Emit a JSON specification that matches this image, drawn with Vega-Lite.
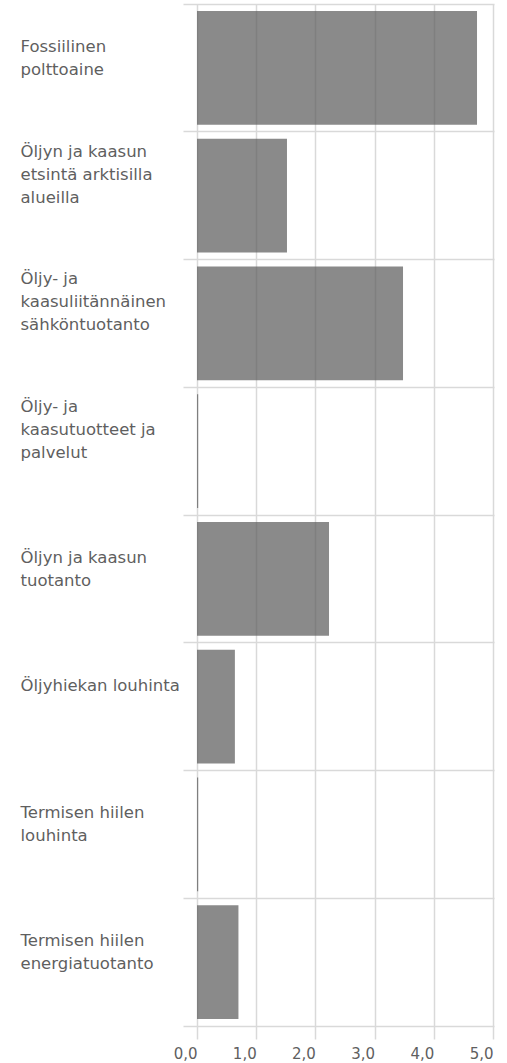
{
  "$schema": "https://vega.github.io/schema/vega-lite/v6.json",
  "width": 311,
  "height": 1022,
  "autosize": {"type": "none"},
  "padding": {"left": 183, "top": 4, "right": 13, "bottom": 37},
  "background": "white",
  "config": {"view": {"stroke": null}, "font": "DejaVu Sans"},
  "data": {
    "values": [
      {"category": "Fossiilinen|polttoaine", "value": 4.73},
      {"category": "Öljyn ja kaasun|etsintä arktisilla|alueilla", "value": 1.52},
      {"category": "Öljy- ja|kaasuliitännäinen|sähköntuotanto", "value": 3.48},
      {"category": "Öljy- ja|kaasutuotteet ja|palvelut", "value": 0.02},
      {"category": "Öljyn ja kaasun|tuotanto", "value": 2.23},
      {"category": "Öljyhiekan louhinta|", "value": 0.64},
      {"category": "Termisen hiilen|louhinta", "value": 0.02},
      {"category": "Termisen hiilen|energiatuotanto", "value": 0.70}
    ]
  },
  "mark": {"type": "bar", "height": {"band": 0.89}, "color": "#595959", "opacity": 0.7},
  "encoding": {
    "y": {
      "field": "category",
      "type": "nominal",
      "sort": null,
      "scale": {"paddingInner": 0, "paddingOuter": 0},
      "axis": {
        "title": null,
        "domain": false,
        "ticks": false,
        "tickSize": 0,
        "bandPosition": 0,
        "grid": true,
        "gridColor": "#d9d9d9",
        "gridWidth": 1.5,
        "labelAlign": "left",
        "labelBaseline": "alphabetic",
        "labelPadding": 163,
        "labelOffset": -39,
        "labelExpr": "length(split(datum.value, '|')) == 2 ? split('|' + datum.value, '|') : split(datum.value, '|')",
        "labelFont": "DejaVu Sans",
        "labelFontSize": 16.5,
        "labelLineHeight": 23,
        "labelColor": "#5f5f5f",
        "labelLimit": 200
      }
    },
    "x": {
      "field": "value",
      "type": "quantitative",
      "scale": {"domain": [-0.2365, 5.017], "nice": false, "zero": false},
      "axis": {
        "title": null,
        "values": [0, 1, 2, 3, 4, 5],
        "labelExpr": "replace(format(datum.value, '.1f'), '.', ',')",
        "grid": true,
        "gridColor": "#d9d9d9",
        "gridWidth": 1.5,
        "domainColor": "#d9d9d9",
        "domainWidth": 1.5,
        "tickColor": "#d9d9d9",
        "tickWidth": 1.5,
        "tickSize": 13,
        "labelAlign": "right",
        "labelDx": -2,
        "labelBaseline": "top",
        "labelPadding": 7,
        "labelFont": "DejaVu Sans",
        "labelFontSize": 15,
        "labelColor": "#5f5f5f"
      }
    },
    "x2": {"datum": 0}
  }
}
